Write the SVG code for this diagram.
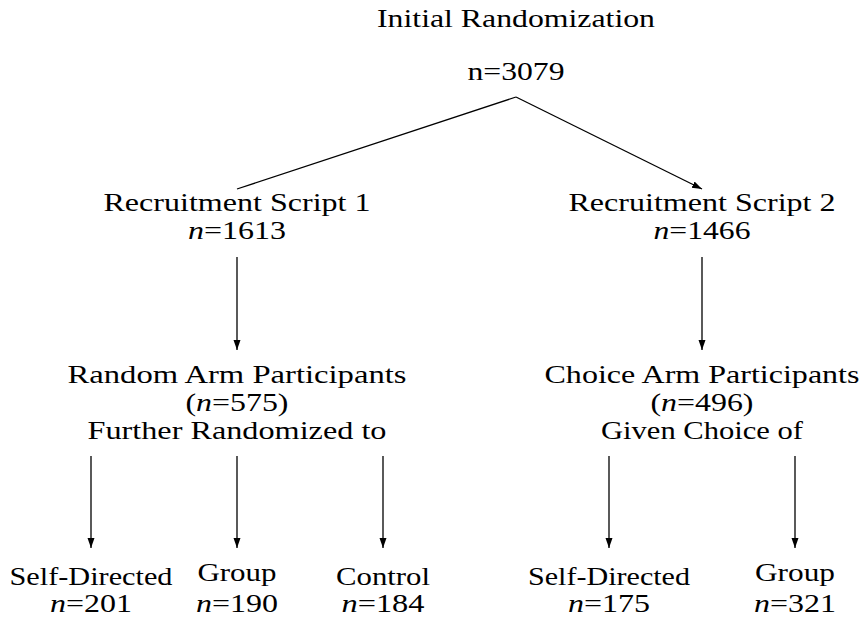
<svg xmlns="http://www.w3.org/2000/svg" width="864" height="620" viewBox="0 0 864 620">
<style>
text{font-family:"Liberation Serif","Times New Roman",serif;font-size:26px;fill:#000;text-anchor:middle}
.i{font-style:italic}
.c{stroke:#000;stroke-width:1.3;fill:none}
</style>
<defs>
<marker id="ah" markerUnits="userSpaceOnUse" markerWidth="10" markerHeight="10" viewBox="0 0 10 10" refX="10" refY="5" orient="auto">
<path d="M0,1.5 L10,5 L0,8.5 Z" fill="#000"/>
</marker>
</defs>
<rect width="864" height="620" fill="#fff"/>
<g id="connectors">
<line class="c" x1="516" y1="97" x2="237" y2="189"/>
<line class="c" x1="516" y1="97" x2="702" y2="189" marker-end="url(#ah)"/>
<line class="c" x1="237" y1="257" x2="237" y2="350" marker-end="url(#ah)"/>
<line class="c" x1="702" y1="257" x2="702" y2="350" marker-end="url(#ah)"/>
<line class="c" x1="91" y1="456" x2="91" y2="548" marker-end="url(#ah)"/>
<line class="c" x1="237" y1="456" x2="237" y2="548" marker-end="url(#ah)"/>
<line class="c" x1="383" y1="456" x2="383" y2="548" marker-end="url(#ah)"/>
<line class="c" x1="609" y1="456" x2="609" y2="548" marker-end="url(#ah)"/>
<line class="c" x1="795" y1="456" x2="795" y2="548" marker-end="url(#ah)"/>
</g>
<g id="initial">
<text x="516" y="27" textLength="278" lengthAdjust="spacingAndGlyphs">Initial Randomization</text>
<text x="516" y="80" textLength="97" lengthAdjust="spacingAndGlyphs">n=3079</text>
</g>
<g id="script1">
<text x="237" y="211" textLength="267" lengthAdjust="spacingAndGlyphs">Recruitment Script 1</text>
<text x="237" y="239" textLength="98" lengthAdjust="spacingAndGlyphs"><tspan class="i">n</tspan>=1613</text>
</g>
<g id="script2">
<text x="702" y="211" textLength="267" lengthAdjust="spacingAndGlyphs">Recruitment Script 2</text>
<text x="702" y="239" textLength="97" lengthAdjust="spacingAndGlyphs"><tspan class="i">n</tspan>=1466</text>
</g>
<g id="random-arm">
<text x="237" y="383" textLength="339" lengthAdjust="spacingAndGlyphs">Random Arm Participants</text>
<text x="237" y="411" textLength="103" lengthAdjust="spacingAndGlyphs">(<tspan class="i">n</tspan>=575)</text>
<text x="237" y="439" textLength="299" lengthAdjust="spacingAndGlyphs">Further Randomized to</text>
</g>
<g id="choice-arm">
<text x="702" y="383" textLength="315" lengthAdjust="spacingAndGlyphs">Choice Arm Participants</text>
<text x="702" y="411" textLength="103" lengthAdjust="spacingAndGlyphs">(<tspan class="i">n</tspan>=496)</text>
<text x="702" y="439" textLength="202" lengthAdjust="spacingAndGlyphs">Given Choice of</text>
</g>
<g id="r-self">
<text x="91" y="585" textLength="163" lengthAdjust="spacingAndGlyphs">Self-Directed</text>
<text x="91" y="612" textLength="82" lengthAdjust="spacingAndGlyphs"><tspan class="i">n</tspan>=201</text>
</g>
<g id="r-group">
<text x="237" y="581" textLength="79" lengthAdjust="spacingAndGlyphs">Group</text>
<text x="237" y="612" textLength="82" lengthAdjust="spacingAndGlyphs"><tspan class="i">n</tspan>=190</text>
</g>
<g id="r-control">
<text x="383" y="585" textLength="94" lengthAdjust="spacingAndGlyphs">Control</text>
<text x="383" y="612" textLength="83" lengthAdjust="spacingAndGlyphs"><tspan class="i">n</tspan>=184</text>
</g>
<g id="c-self">
<text x="609" y="585" textLength="162" lengthAdjust="spacingAndGlyphs">Self-Directed</text>
<text x="609" y="612" textLength="82" lengthAdjust="spacingAndGlyphs"><tspan class="i">n</tspan>=175</text>
</g>
<g id="c-group">
<text x="795" y="581" textLength="80" lengthAdjust="spacingAndGlyphs">Group</text>
<text x="795" y="612" textLength="82" lengthAdjust="spacingAndGlyphs"><tspan class="i">n</tspan>=321</text>
</g>
</svg>
